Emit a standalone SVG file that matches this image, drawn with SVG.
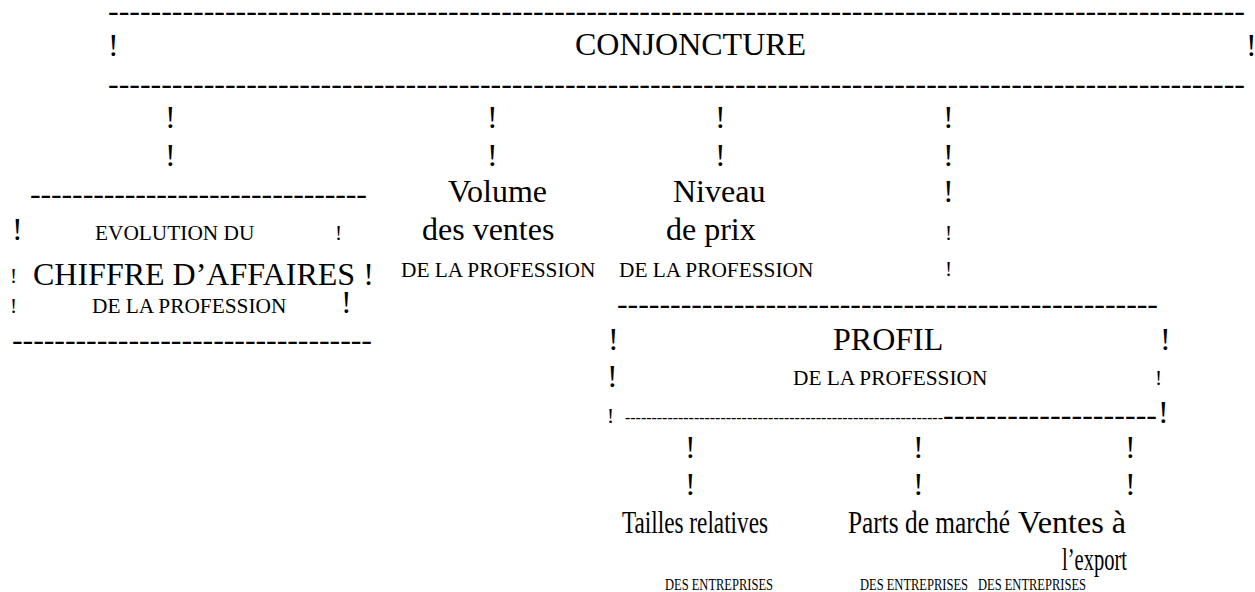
<svg xmlns="http://www.w3.org/2000/svg" width="1255" height="592" viewBox="0 0 1255 592">
<style>
text{font-family:"Liberation Serif","Times New Roman",serif;fill:#000}
.b{font-size:32px}
.m{font-size:21.33px}
.s{font-size:16px}
</style>
<rect width="1255" height="592" fill="#fff"/>
<g id="conjoncture">
<text class="b" x="108" y="21" textLength="1137" lengthAdjust="spacing">-----------------------------------------------------------------------------------------------------------</text>
<text class="b" x="108" y="56">!</text>
<text class="b" x="575" y="55">CONJONCTURE</text>
<text class="b" x="1246" y="56">!</text>
<text class="b" x="108" y="94" textLength="1137" lengthAdjust="spacing">-----------------------------------------------------------------------------------------------------------</text>
</g>
<g id="connectors">
<text class="b" x="165" y="128">!</text>
<text class="b" x="165" y="166">!</text>
<text class="b" x="487" y="128">!</text>
<text class="b" x="487" y="166">!</text>
<text class="b" x="715" y="128">!</text>
<text class="b" x="715" y="166">!</text>
<text class="b" x="943" y="128">!</text>
<text class="b" x="943" y="166">!</text>
<text class="b" x="943" y="202">!</text>
<text class="m" x="945" y="240">!</text>
<text class="m" x="945" y="276">!</text>
<text class="b" x="685" y="458">!</text>
<text class="b" x="685" y="495">!</text>
<text class="b" x="913" y="458">!</text>
<text class="b" x="913" y="495">!</text>
<text class="b" x="1125" y="458">!</text>
<text class="b" x="1125" y="495">!</text>
</g>
<g id="evolution">
<text class="b" x="30" y="204" textLength="337" lengthAdjust="spacing">--------------------------------</text>
<text class="b" x="12" y="240">!</text>
<text class="m" x="95" y="240">EVOLUTION DU</text>
<text class="m" x="335" y="240">!</text>
<text class="m" x="10" y="283">!</text>
<text class="b" x="33" y="285">CHIFFRE D’AFFAIRES !</text>
<text class="m" x="10" y="313">!</text>
<text class="m" x="92" y="313">DE LA PROFESSION</text>
<text class="b" x="341" y="313">!</text>
<text class="b" x="12" y="350" textLength="360" lengthAdjust="spacing">----------------------------------</text>
</g>
<g id="volume">
<text class="b" x="448" y="202">Volume</text>
<text class="b" x="422" y="240">des ventes</text>
<text class="m" x="401" y="277">DE LA PROFESSION</text>
</g>
<g id="niveau">
<text class="b" x="673" y="202">Niveau</text>
<text class="b" x="666" y="240">de prix</text>
<text class="m" x="619" y="277">DE LA PROFESSION</text>
</g>
<g id="profil">
<text class="b" x="617" y="314" textLength="541" lengthAdjust="spacing">---------------------------------------------------</text>
<text class="b" x="608" y="350">!</text>
<text class="b" x="833" y="350">PROFIL</text>
<text class="b" x="1160" y="350">!</text>
<text class="b" x="607" y="387">!</text>
<text class="m" x="793" y="385">DE LA PROFESSION</text>
<text class="m" x="1155" y="385">!</text>
<text class="m" x="607" y="423">!</text>
<text class="s" x="625" y="423" textLength="318" lengthAdjust="spacing">------------------------------------------------------------</text>
<text class="b" x="943" y="425" textLength="214" lengthAdjust="spacing">--------------------</text>
<text class="b" x="1158" y="423">!</text>
</g>
<g id="tailles">
<text class="b" x="622" y="533" textLength="146" lengthAdjust="spacingAndGlyphs">Tailles relatives</text>
<text class="s" x="665" y="590" textLength="108" lengthAdjust="spacingAndGlyphs">DES ENTREPRISES</text>
</g>
<g id="parts">
<text class="b" x="848" y="533" textLength="162" lengthAdjust="spacingAndGlyphs">Parts de marché</text>
<text class="s" x="860" y="590" textLength="108" lengthAdjust="spacingAndGlyphs">DES ENTREPRISES</text>
</g>
<g id="ventes">
<text class="b" x="1018" y="533" textLength="108" lengthAdjust="spacingAndGlyphs">Ventes à</text>
<text class="b" x="1062" y="570" textLength="65" lengthAdjust="spacingAndGlyphs">l’export</text>
<text class="s" x="978" y="590" textLength="108" lengthAdjust="spacingAndGlyphs">DES ENTREPRISES</text>
</g>
</svg>
